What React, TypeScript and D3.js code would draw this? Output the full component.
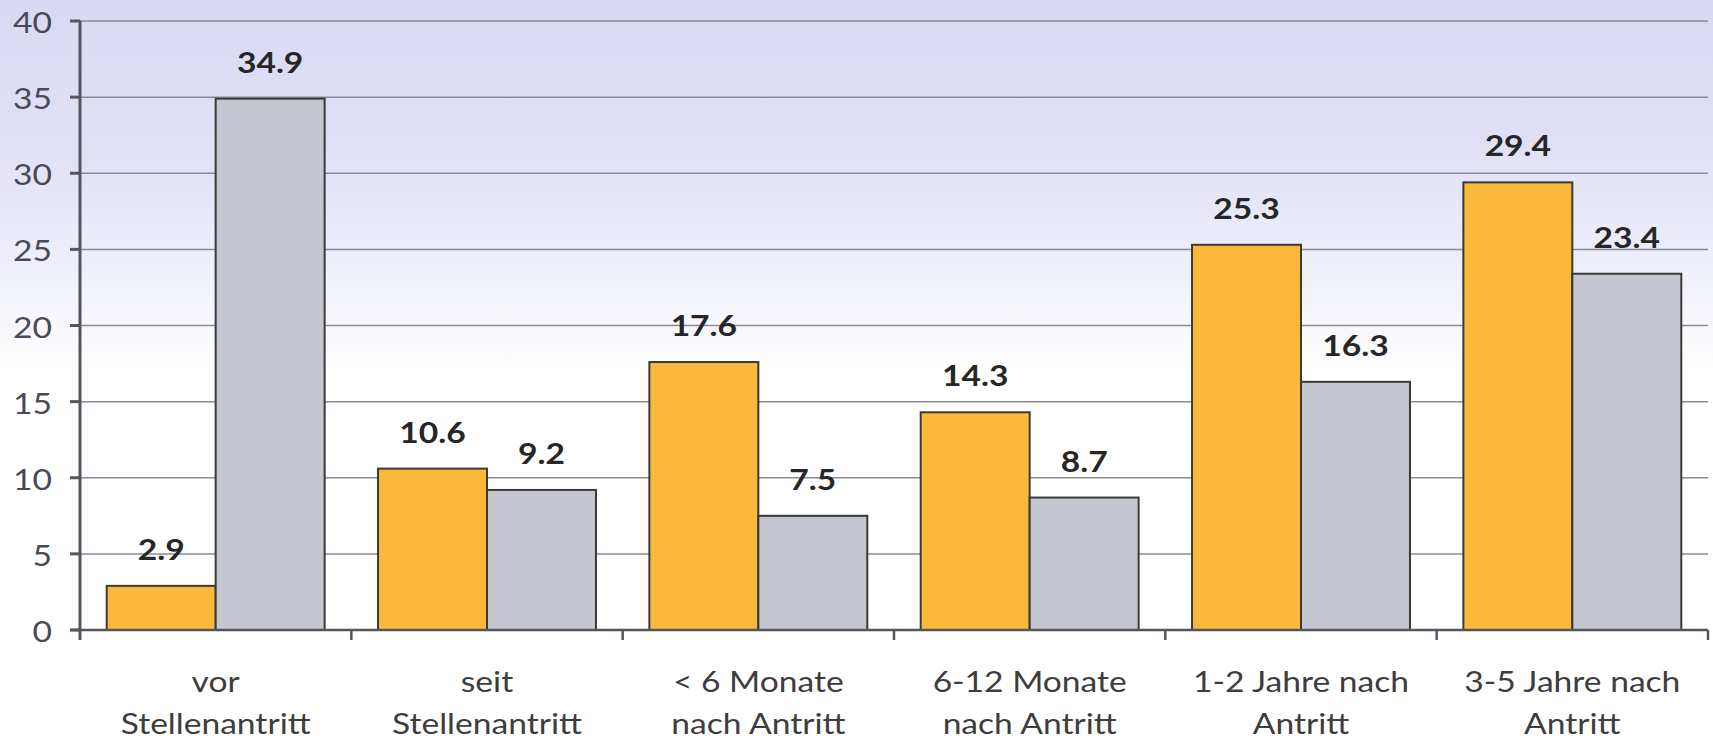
import React from "react";
import * as d3 from "d3";

// Category labels (two lines each)
const categoryLine1 = ["vor", "seit", "< 6 Monate", "6-12 Monate", "1-2 Jahre nach", "3-5 Jahre nach"];
const categoryLine2 = ["Stellenantritt", "Stellenantritt", "nach Antritt", "nach Antritt", "Antritt", "Antritt"];

// Series values
const orangeValues = [2.9, 10.6, 17.6, 14.3, 25.3, 29.4];
const grayValues = [34.9, 9.2, 7.5, 8.7, 16.3, 23.4];

// Y axis ticks
const yTickValues = [0, 5, 10, 15, 20, 25, 30, 35, 40];

const W = 1713;
const H = 741;
const FONT = "Lato, 'Open Sans', sans-serif";
const SX = 1.2;

const seriesKeys = ["orange", "gray"];
const seriesFill: Record<string, string> = { orange: "#fab93a", gray: "#c4c7cf" };

function Label(props: {
  x: number;
  y: number;
  anchor?: string;
  weight?: string | number;
  fill?: string;
  children: React.ReactNode;
}) {
  const { x, y, anchor = "middle", weight = "normal", fill = "#3d3d3d", children } = props;
  return (
    <g transform={`translate(${x},${y}) scale(${SX},1)`}>
      <text
        textAnchor={anchor}
        fontFamily={FONT}
        fontSize={28}
        fontWeight={weight}
        fill={fill}
      >
        {children}
      </text>
    </g>
  );
}

export default function App() {
  const idx = categoryLine1.map((_, i) => String(i));
  const x = d3.scaleBand<string>().domain(idx).range([80, 1708]).padding(0);
  const inner = d3
    .scaleBand<string>()
    .domain(seriesKeys)
    .range([0, x.bandwidth()])
    .paddingInner(0)
    .paddingOuter(0.245);
  const y = d3.scaleLinear().domain([0, 40]).range([630, 21]);

  const rows = idx.map((k, i) => ({
    key: k,
    values: [
      { s: "orange", v: orangeValues[i] },
      { s: "gray", v: grayValues[i] },
    ],
  }));

  const boundaries = idx.slice(1).map((k) => x(k) as number).concat([1708]);

  return (
    <svg
      width={W}
      height={H}
      style={{ position: "absolute", left: 0, top: 0, display: "block" }}
    >
      <defs>
        <linearGradient id="bg" x1="0" y1="0" x2="0" y2={H} gradientUnits="userSpaceOnUse">
          <stop offset="0" stopColor="#dad9f5" />
          <stop offset="0.2" stopColor="#e1e0f7" />
          <stop offset="0.38" stopColor="#f1f1fb" />
          <stop offset="0.5" stopColor="#ffffff" />
          <stop offset="1" stopColor="#ffffff" />
        </linearGradient>
      </defs>
      <rect x={0} y={0} width={W} height={H} fill="url(#bg)" />

      {/* horizontal gridlines */}
      {yTickValues
        .filter((t) => t > 0)
        .map((t) => (
          <line
            key={`g${t}`}
            x1={80}
            x2={1708}
            y1={y(t)}
            y2={y(t)}
            stroke="#8a8a98"
            strokeWidth={1.5}
          />
        ))}

      {/* bars */}
      {rows.map((r) => (
        <g key={r.key} transform={`translate(${x(r.key)},0)`}>
          {r.values.map((d) => (
            <rect
              key={d.s}
              x={inner(d.s)}
              y={y(d.v)}
              width={inner.bandwidth()}
              height={y(0) - y(d.v)}
              fill={seriesFill[d.s]}
              stroke="#3a3a36"
              strokeWidth={2}
            />
          ))}
        </g>
      ))}

      {/* value labels */}
      {rows.map((r) =>
        r.values.map((d) => (
          <Label
            key={`${r.key}-${d.s}`}
            x={(x(r.key) as number) + (inner(d.s) as number) + inner.bandwidth() / 2}
            y={y(d.v) - 26}
            weight="bold"
            fill="#262626"
          >
            {d.v.toFixed(1)}
          </Label>
        ))
      )}

      {/* y axis */}
      <line x1={80} x2={80} y1={y(40)} y2={y(0) + 10} stroke="#555560" strokeWidth={3} />
      {yTickValues.map((t) => (
        <g key={`yt${t}`}>
          <line x1={70} x2={80} y1={y(t)} y2={y(t)} stroke="#555560" strokeWidth={3} />
          <Label x={52} y={y(t) + 12} anchor="end" fill="#4a4a55">
            {t}
          </Label>
        </g>
      ))}

      {/* x axis */}
      <line x1={70} x2={1708} y1={y(0)} y2={y(0)} stroke="#555560" strokeWidth={2.5} />
      {boundaries.map((b, i) => (
        <line key={`xt${i}`} x1={b} x2={b} y1={y(0)} y2={y(0) + 10} stroke="#555560" strokeWidth={2.5} />
      ))}

      {/* category labels */}
      {idx.map((k, i) => {
        const cx = (x(k) as number) + x.bandwidth() / 2;
        return (
          <g key={`cl${k}`}>
            <Label x={cx} y={692}>{categoryLine1[i]}</Label>
            <Label x={cx} y={734}>{categoryLine2[i]}</Label>
          </g>
        );
      })}
    </svg>
  );
}
